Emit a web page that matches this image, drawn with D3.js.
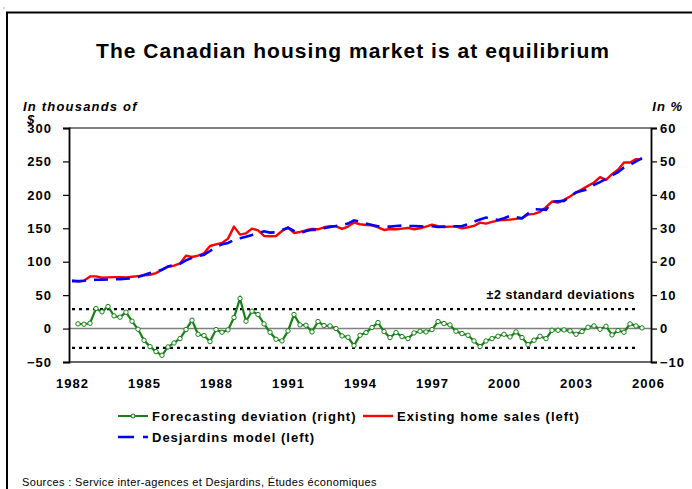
<!DOCTYPE html>
<html><head><meta charset="utf-8">
<script src="https://cdn.jsdelivr.net/npm/d3@7"></script>
<style>
body{margin:0;background:#fff;}
svg{display:block;font-family:"Liberation Sans",Arial,sans-serif;}
</style></head>
<body><svg id="c" width="692" height="489"></svg>
<script>
// ---- data ----
const yearLabels = [1982,1985,1988,1991,1994,1997,2000,2003,2006];
const leftTicks = [-50,0,50,100,150,200,250,300];
const rightTicks = [-10,0,10,20,30,40,50,60];
// quarterly, 1982Q1 .. 2005Q4 (index 0..95)
const homeSales = [72,70.5,71.5,78,78,76,76.5,77,77,76.5,77.5,78.5,79.5,80.5,83,88,92.5,94,97.5,109,107,109,112.5,123.5,126,128,134.5,152.5,140.5,142.5,149.5,147,
138.5,138,138.5,146,151,143,144.5,147,149,148.5,151.5,153,153,149,152.5,158.5,156,155,154.5,151.5,147.5,149,148.5,149.5,150.5,148.5,150,152.5,155.5,153,152,152.5,
152.5,150,151.5,153.5,158.5,157,159.5,161.5,162.5,163,164,165,170.5,171.5,174.5,181.5,190,188.5,192.5,197.5,203.5,208.5,213.5,218.5,226.5,222.5,231,237.5,248.5,248.5,253.5,253.5];
const desjardinsModel = [71,71,71.5,72.5,73,73,73.5,73.5,74,74.5,75,77,80,83,85,88,93,95,97,102,106,108,110.5,116,122,126,128,132.5,135,137.5,140,143,
145.5,143.5,144,147.5,151,146,142.5,146,148,147.5,150,152,153.5,155,157,162,160,157,155,153,153,152.5,153.5,154,153.5,153.5,153,152.5,153,152,152.5,153,
153,153.5,156,160,163,166,164,162.5,165,168.5,166.5,165,172,178.5,178,177.5,190,190.5,191,197,203.5,206,208.5,215,219,224,229,234,241,245,250,255];
// forecasting deviation (%), starts 1982Q2 (index 0 is empty)
const deviation = [null,1.4,1.3,1.6,6.0,5.0,6.6,3.8,3.4,4.9,2.2,-0.2,-3.5,-5.4,-6.9,-8.0,-5.5,-4.3,-3.0,-0.3,2.5,-1.7,-2.1,-3.9,-0.3,-1.1,-0.4,3.3,9.0,2.2,5.2,4.2,
1.4,-1.1,-3.2,-3.7,-0.7,4.2,1.1,1.0,-1.0,2.1,0.9,0.8,0.0,-2.2,-2.6,-5.1,-2.0,-1.2,0.3,1.8,-0.9,-2.7,-1.2,-2.4,-3.0,-1.3,-0.8,-1.0,-0.3,2.1,1.5,1.1,
-0.8,-1.5,-2.0,-3.7,-5.4,-3.7,-3.0,-2.3,-1.7,-2.5,-1.0,-2.7,-4.8,-3.5,-2.3,-3.0,-0.5,-0.5,-0.4,-0.7,-1.7,-0.9,0.4,0.8,-0.2,0.7,-1.9,-0.6,-1.1,1.4,0.8,0.2];
const bandIdx = [0,94.3];
const bandUpper = [5.8,5.8];
const bandLower = [-5.8,-5.8];

// ---- layout ----
const svg = d3.select("#c");
const L=69, R=651, T=128, B=362;
const x = d3.scaleLinear().domain([-0.5,96.5]).range([L,R]);
const yL = d3.scaleLinear().domain([-50,300]).range([B,T]);
const yR = d3.scaleLinear().domain([-10,60]).range([B,T]);
const F = '"Liberation Sans",Arial,sans-serif';
const G = "#168216";

// outer frame
svg.append("path").attr("d",`M7,489 L7,12.5 L692,12.5`).attr("fill","none").attr("stroke","#000").attr("stroke-width",2);
svg.append("rect").attr("x",3.5).attr("y",7.5).attr("width",1).attr("height",1).attr("fill","#666");

// title
svg.append("text").attr("x",353).attr("y",57.5).attr("text-anchor","middle").attr("letter-spacing",1.05)
  .attr("font-size",21).attr("font-weight","bold").text("The Canadian housing market is at equilibrium");
svg.append("text").attr("x",23).attr("y",110.5).attr("font-size",13).attr("letter-spacing",1.2).attr("font-weight","bold").attr("font-style","italic").text("In thousands of");
svg.append("text").attr("x",27).attr("y",124).attr("font-size",13).attr("font-weight","bold").attr("font-style","italic").text("$");
svg.append("text").attr("x",683).attr("y",110.5).attr("text-anchor","end").attr("letter-spacing",1).attr("font-size",13).attr("font-weight","bold").attr("font-style","italic").text("In %");

// plot border lines
svg.append("line").attr("x1",L).attr("x2",R).attr("y1",T).attr("y2",T).attr("stroke","#000").attr("stroke-width",1.2);
svg.append("line").attr("x1",L).attr("x2",R).attr("y1",B).attr("y2",B).attr("stroke","#333").attr("stroke-width",1.5);
// zero line
svg.append("line").attr("x1",L).attr("x2",R).attr("y1",yR(0)).attr("y2",yR(0)).attr("stroke","#808080").attr("stroke-width",1.5);

// axes
const gx = svg.append("g").attr("transform",`translate(0,${B})`)
  .call(d3.axisBottom(x).tickValues(yearLabels.map((d,i)=>i*12)).tickFormat((d,i)=>yearLabels[i]).tickSize(0).tickPadding(17));
gx.select(".domain").remove();
const gl = svg.append("g").attr("transform",`translate(${L},0)`)
  .call(d3.axisLeft(yL).tickValues(leftTicks).tickSize(6).tickPadding(11));
const gr = svg.append("g").attr("transform",`translate(${R},0)`)
  .call(d3.axisRight(yR).tickValues(rightTicks).tickSize(6).tickPadding(3));
[gx,gl,gr].forEach(g=>{
  g.selectAll("text").attr("font-family",F).attr("font-size",13).attr("font-weight","bold").attr("letter-spacing",1).attr("fill","#000");
  g.selectAll(".domain").attr("stroke","#000").attr("stroke-width",1.8);
  g.selectAll(".tick line").attr("stroke","#000").attr("stroke-width",1.2);
});

// bands
const bandLine = d3.line().x((d,i)=>x(bandIdx[i])).y(d=>yR(d));
[bandUpper,bandLower].forEach(b=>{
  svg.append("path").attr("d",bandLine(b)).attr("fill","none").attr("stroke","#000").attr("stroke-width",2.2).attr("stroke-dasharray","3,4");
});
svg.append("text").attr("x",635).attr("y",298.5).attr("text-anchor","end").attr("letter-spacing",0.6).attr("font-size",12.5).attr("font-weight","bold").text("\u00b12 standard deviations");

// deviation
const devLine = d3.line().defined(d=>d!==null).x((d,i)=>x(i)).y(d=>yR(d));
svg.append("path").attr("d",devLine(deviation)).attr("fill","none").attr("stroke",G).attr("stroke-width",2.2);
svg.append("g").selectAll("circle").data(deviation.map((v,i)=>({v,i})).filter(d=>d.v!==null)).join("circle")
  .attr("cx",d=>x(d.i)).attr("cy",d=>yR(d.v)).attr("r",2.2).attr("fill","#fff").attr("stroke",G).attr("stroke-width",1);

// sales & model
const lineL = d3.line().x((d,i)=>x(i)).y(d=>yL(d));
svg.append("path").attr("d",lineL(homeSales)).attr("fill","none").attr("stroke","#ff0000").attr("stroke-width",2.4).attr("stroke-linejoin","round");
svg.append("path").attr("d",lineL(desjardinsModel)).attr("fill","none").attr("stroke","#0000ff").attr("stroke-width",2.6).attr("stroke-dasharray","14,8");

// legend
const lg = svg.append("g").attr("font-size",13).attr("font-weight","bold").attr("letter-spacing",1);
lg.append("line").attr("x1",118).attr("x2",148).attr("y1",416).attr("y2",416).attr("stroke",G).attr("stroke-width",2);
lg.append("circle").attr("cx",133).attr("cy",416).attr("r",2).attr("fill","#fff").attr("stroke",G);
lg.append("text").attr("x",152).attr("y",421).text("Forecasting deviation (right)");
lg.append("line").attr("x1",363).attr("x2",393).attr("y1",416).attr("y2",416).attr("stroke","#ff0000").attr("stroke-width",2.4);
lg.append("text").attr("x",397).attr("y",421).text("Existing home sales (left)");
lg.append("line").attr("x1",118).attr("x2",148).attr("y1",437).attr("y2",437).attr("stroke","#0000ff").attr("stroke-width",2.6).attr("stroke-dasharray","16,9");
lg.append("text").attr("x",152).attr("y",442).text("Desjardins model (left)");

// source
svg.append("text").attr("x",22).attr("y",486).attr("font-size",11).attr("letter-spacing",0.35).text("Sources : Service inter-agences et Desjardins, \u00c9tudes \u00e9conomiques");
</script></body></html>
